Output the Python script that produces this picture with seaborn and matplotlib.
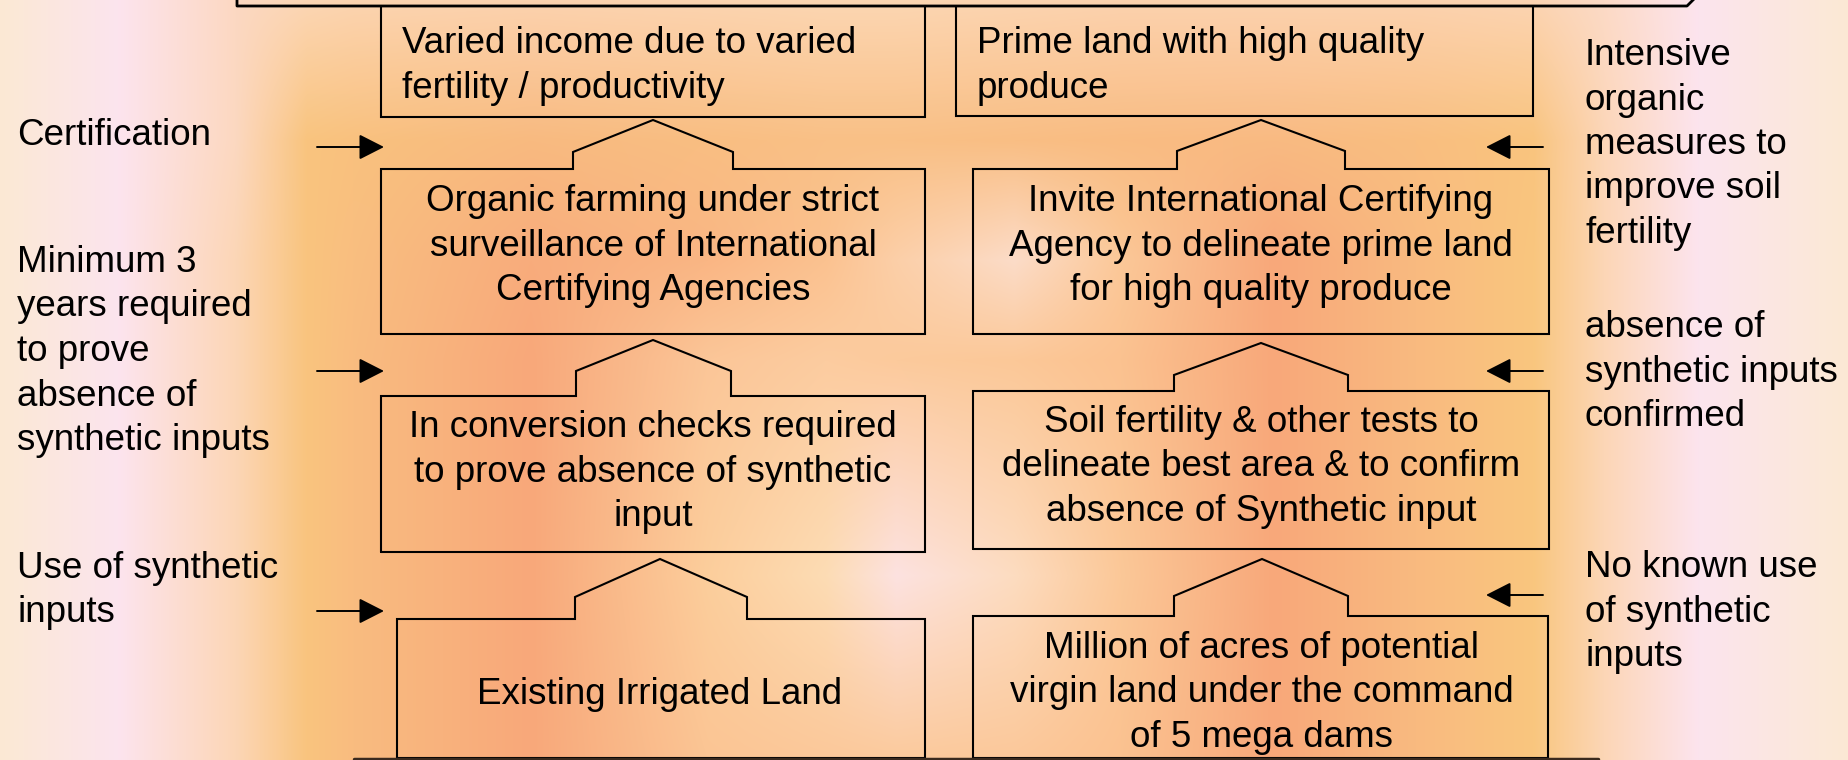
import numpy as np
import matplotlib
matplotlib.use("Agg")
import matplotlib.pyplot as plt
import seaborn as sns
from matplotlib.colors import to_rgb

# ---- texts of the diagram ----
left_notes = ["Certification",
              "Minimum 3\nyears required\nto prove\nabsence of\nsynthetic inputs",
              "Use of synthetic\ninputs"]
right_notes = ["Intensive\norganic\nmeasures to\nimprove soil\nfertility",
               "absence of\nsynthetic inputs\nconfirmed",
               "No known use\nof synthetic\ninputs"]
left_column = ["Varied income due to varied\nfertility / productivity",
               "Organic farming under strict\nsurveillance of International\nCertifying Agencies",
               "In conversion checks required\nto prove absence of synthetic\ninput",
               "Existing Irrigated Land"]
right_column = ["Prime land with high quality\nproduce",
                "Invite International Certifying\nAgency to delineate prime land\nfor high quality produce",
                "Soil fertility & other tests to\ndelineate best area & to confirm\nabsence of Synthetic input",
                "Million of acres of potential\nvirgin land under the command\nof 5 mega dams"]

# ---- layout (pixel coordinates, y downwards) ----
W, H = 1849, 760
left_note_y = [145, 272, 578]
right_note_y = [65, 337, 577]
left_box_y = [53, 211, 437, 704]
right_box_y = [53, 211, 432, 658]
# x0, x1, top, bottom, notch x0, notch x1, notch top, peak x, peak y
left_boxes = [(381, 925, 6, 117, None, None, None, None, None),
              (381, 925, 169, 334, 573, 733, 152, 653, 120),
              (381, 925, 396, 552, 576, 731, 371, 653, 340),
              (397, 925, 619, 758, 575, 747, 597, 660, 559)]
right_boxes = [(956, 1533, 6, 116, None, None, None, None, None),
               (973, 1549, 169, 334, 1177, 1345, 151, 1261, 120),
               (973, 1549, 391, 549, 1174, 1348, 375, 1261, 343),
               (973, 1548, 616, 758, 1174, 1348, 596, 1262, 559)]
left_arrow_y = [147, 371, 611]
right_arrow_y = [147, 371, 595]
step = 44.5

# ---- background colour field ----
xs_disp = [0, 100, 200, 260, 300, 450, 600, 700, 760, 860, 950, 1080, 1200, 1300, 1360, 1440, 1568]
rows = {
    0: ["#FBE9D4", "#FCE4EE", "#FCD8C2", "#FCD6B4", "#FCD4B0", "#FCD2AE", "#FCD4B0", "#FCD6B2",
        "#FCD6B2", "#FCD4B0", "#FCD2AE", "#FCD2AE", "#FCD2AE", "#FCD4B2", "#FCDAC6", "#FCE4EE", "#FBE9D4"],
    140: ["#FBE9D4", "#FCE4EE", "#FCD8C0", "#F9C47E", "#F9C17E", "#F8BA80", "#F9BE82", "#F9C086",
          "#F9C086", "#F9BE84", "#F9BC82", "#F9BA82", "#F9BE80", "#F9C47E", "#FCD6B8", "#FCE4EE", "#FBE9D4"],
    260: ["#FBE9D4", "#FCE4EE", "#FCD6B6", "#F9C47E", "#F9BE80", "#F8AC7C", "#FAB684", "#FBC290",
          "#FCCFA8", "#FCDCC8", "#FBC898", "#F8A87A", "#F9BA80", "#F9C67E", "#FCD6B6", "#FCE4EE", "#FBE9D4"],
    360: ["#FBE9D4", "#FCE4EE", "#FCD6B6", "#F9C47E", "#F9BC80", "#F8A87A", "#FBC698", "#FCCCA0",
          "#FCCA9C", "#FBC898", "#FBC290", "#F8A87A", "#F9BA80", "#F9C67E", "#FCD6B6", "#FCE4EE", "#FBE9D4"],
    575: ["#FBE9D4", "#FCE4EE", "#FCD6B6", "#F9C47E", "#F9BC80", "#F8A87A", "#FCCE9C", "#FDDCB4",
          "#FDE2E0", "#FDDCC0", "#FBC898", "#F8A87A", "#F9BA80", "#F9C67E", "#FCD6B6", "#FCE4EE", "#FBE9D4"],
    760: ["#FBE9D4", "#FCE4EE", "#FCD6B6", "#F9C47E", "#F9BC80", "#F8A87A", "#FBC594", "#FBC89A",
          "#FBCA9C", "#FBC89A", "#FBC290", "#F8A87A", "#F9BA80", "#F9C67E", "#FCD6B6", "#FCE4EE", "#FBE9D4"],
}
xs = np.array(xs_disp) * W / 1568
px = np.arange(W)
row_y = sorted(rows)
row_img = np.array([[np.interp(px, xs, [to_rgb(c)[k] for c in rows[r]]) for k in range(3)]
                    for r in row_y])  # (nrows, 3, W)
py = np.arange(H)
bg = np.empty((H, W, 3))
for k in range(3):
    for j in range(W):
        bg[:, j, k] = np.interp(py, row_y, row_img[:, k, j])

sns.set_theme(style="white")
plt.rcParams["font.family"] = ["Liberation Sans", "DejaVu Sans"]

fig = plt.figure(figsize=(W / 100, H / 100), dpi=100)
ax = fig.add_axes([0, 0, 1, 1])
ax.imshow(bg, extent=[0, W, H, 0], aspect="auto", interpolation="bilinear")
ax.set_xlim(0, W)
ax.set_ylim(H, 0)
ax.axis("off")

fs = 26.5
lw = 1.5


def draw_box(b):
    x0, x1, top, bot, n0, n1, nt, pkx, pky = b
    if n0 is None:
        pts = [(x0, top), (x0, bot), (x1, bot), (x1, top)]
    else:
        pts = [(x0, bot), (x0, top), (n0, top), (n0, nt), (pkx, pky),
               (n1, nt), (n1, top), (x1, top), (x1, bot), (x0, bot)]
    xx, yy = zip(*pts)
    ax.plot(xx, yy, color="black", lw=lw, solid_joinstyle="miter")


def draw_lines(text, x, y0, ha):
    for i, line in enumerate(text.split("\n")):
        ax.text(x, y0 + i * step, line, ha=ha, va="baseline", fontsize=fs, color="black")


# top wide box edge
ax.plot([237, 237, 1687, 1697], [-2, 6, 6, -4], color="black", lw=2)

for texts, boxes, ys in [(left_column, left_boxes, left_box_y), (right_column, right_boxes, right_box_y)]:
    for i, (t, b, y) in enumerate(zip(texts, boxes, ys)):
        draw_box(b)
        if i == 0:
            draw_lines(t, b[0] + 21, y, "left")
        else:
            cx = b[7] if b[7] is not None else (b[0] + b[1]) / 2
            draw_lines(t, cx, y, "center")

for t, y in zip(left_notes, left_note_y):
    draw_lines(t, 17, y, "left")
for t, y in zip(right_notes, right_note_y):
    draw_lines(t, 1585, y, "left")

arrow = dict(arrowstyle="-|>,head_length=0.55,head_width=0.28", mutation_scale=28,
             lw=1.4, color="black", shrinkA=0, shrinkB=0)
for y in left_arrow_y:
    ax.annotate("", xy=(384, y), xytext=(317, y), arrowprops=arrow)
for y in right_arrow_y:
    ax.annotate("", xy=(1486, y), xytext=(1543, y), arrowprops=arrow)

# bottom edge line
ax.plot([354, 1598], [758.5, 758.5], color="#3a2a1e", lw=2.5)

fig.savefig("out.png", dpi=100)
